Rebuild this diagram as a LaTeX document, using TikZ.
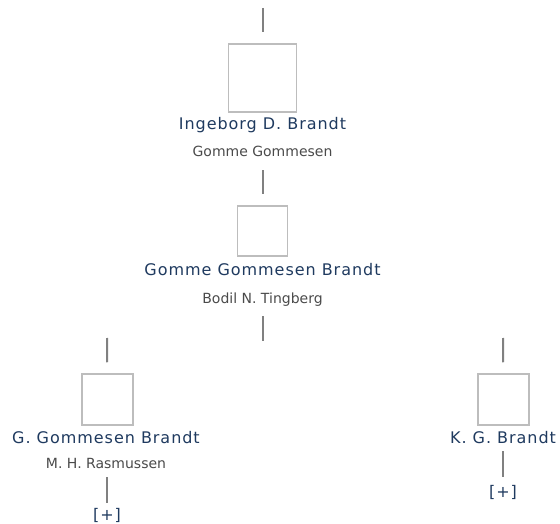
\documentclass[tikz,border=0pt]{standalone}
\usepackage{fontspec}
\setmainfont{DejaVu Sans}
\newfontfamily\personfam[LetterSpace=6]{DejaVu Sans}
\usepackage{tikz}
\usetikzlibrary{positioning}

\definecolor{namecol}{HTML}{1F3A5F}
\definecolor{spousecol}{HTML}{4A4A4A}
\definecolor{linkcol}{HTML}{808080}
\definecolor{photocol}{HTML}{BDBDBD}

\tikzset{
  photo/.style={draw=photocol,line width=1.5pt,fill=white,inner sep=0pt,minimum size=#1},
  person/.style={anchor=base,inner sep=0pt,text depth=0pt,text=namecol,
    font=\personfam\fontsize{16}{19}\selectfont},
  spouse/.style={anchor=base,inner sep=0pt,text depth=0pt,text=spousecol,
    font=\fontsize{14}{16}\selectfont},
  more/.style={anchor=base,inner sep=0pt,text height=10pt,text depth=0pt,text=namecol,
    font=\personfam\fontsize{16}{19}\selectfont},
  link/.style={draw=linkcol,line width=2pt},
}

\begin{document}
\begin{tikzpicture}[x=1pt,y=-1pt]
\useasboundingbox (0,0) rectangle (560,524);

\coordinate (top1) at (262.5,8);
\node[photo=68pt] (box1) at (262.5,78) {};
\node[person] (name1) at (262.5,130) {Ingeborg D. Brandt};
\node[spouse] (spouse1) at (262.5,157) {Gomme Gommesen};

\node[photo=50pt] (box2) at (262.5,231) {};
\node[person] (name2) at (262.5,275) {Gomme Gommesen Brandt};
\node[spouse] (spouse2) at (262.5,303) {Bodil N. Tingberg};
\coordinate (end2) at (262.5,341);

\coordinate (top3) at (107,338);
\node[photo=51pt] (box3) at (107.5,399.5) {};
\node[person] (name3) at (106,443) {G. Gommesen Brandt};
\node[spouse] (spouse3) at (106,468) {M. H. Rasmussen};
\node[more] (more3) at (107,520) {[+]};

\coordinate (top4) at (503,338);
\node[photo=51pt] (box4) at (503.5,399.5) {};
\node[person] (name4) at (503,443) {K. G. Brandt};
\node[more] (more4) at (503,497) {[+]};

\draw[link,shorten >=11pt] (top1) -- (box1);
\draw[link,shorten <=13pt,shorten >=11pt] (spouse1) -- (box2);
\draw[link,shorten <=13pt] (spouse2) -- (end2);
\draw[link,shorten >=11pt] (top3) -- (box3);
\draw[link,shorten >=11pt] (top4) -- (box4);
\draw[link,shorten <=9pt,shorten >=7pt] (spouse3.south -| more3) -- (more3);
\draw[link,shorten <=8pt,shorten >=10pt] (name4) -- (more4);
\end{tikzpicture}
\end{document}
